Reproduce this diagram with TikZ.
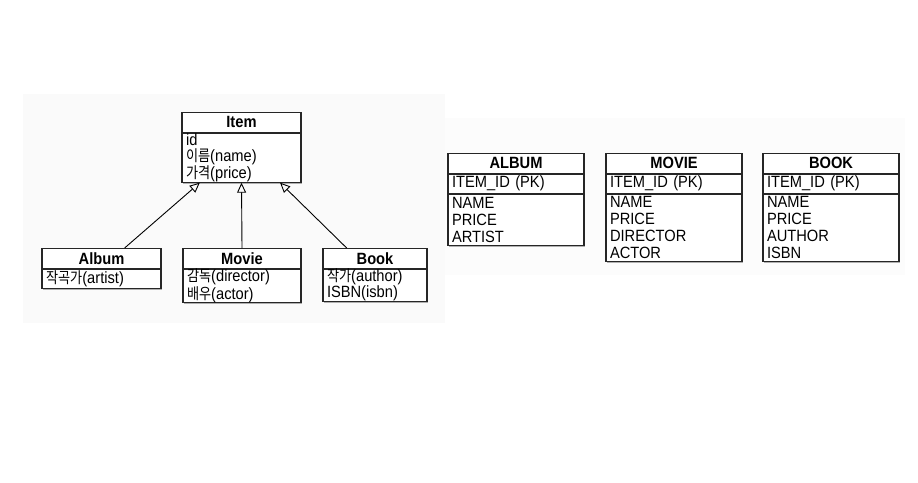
\documentclass[tikz,border=0pt]{standalone}
\usepackage{fontspec}
\setmainfont{Liberation Sans}[FakeStretch=0.9]
\newfontfamily\kr{Noto Sans CJK KR}[Scale=0.95,FakeStretch=0.85]
\usetikzlibrary{positioning,shadows,arrows.meta}
\tikzset{
  box/.style={draw=black!85,line width=1.1pt,fill=white,inner sep=0pt,
    drop shadow={shadow xshift=1pt,shadow yshift=-1.5pt,fill=black!60,opacity=.5}},
  head/.style={box,minimum width=#1,minimum height=19.5pt,font=\fontsize{16.3}{17}\selectfont\bfseries},
  attrs/.style={box,text width=#1,inner xsep=4pt,align=left,font=\fontsize{16.3}{17}\selectfont},
  uml/.style={font=\fontsize{16.3}{16}\selectfont},
  inherit/.style={line width=0.9pt,-{Triangle[open,length=10pt,width=9pt,line width=0.9pt]}}
}
\begin{document}
\begin{tikzpicture}[x=1pt,y=-1pt]
\useasboundingbox (0,0) rectangle (918,482);
\fill[black!2] (23,94) rectangle (445,323);
\fill[black!1] (445,118) rectangle (905,275);
% class diagram
\node (itemH)[head=119pt,anchor=north] at (241.5,112) {Item};
\node (itemB)[attrs=111pt,uml,minimum height=49pt,below=0pt of itemH] {id\\{\kr 이름}(name)\\{\kr 가격}(price)};
\node (albumH)[head=119pt,anchor=north] at (101.5,248) {Album};
\node (albumB)[attrs=111pt,uml,minimum height=19pt,below=0pt of albumH] {{\kr 작곡가}(artist)};
\node (movieH)[head=118pt,anchor=north] at (242,248) {Movie};
\node (movieB)[attrs=110pt,uml,minimum height=32pt,below=0pt of movieH] {{\kr 감독}(director)\\{\kr 배우}(actor)};
\node (bookH)[head=104pt,anchor=north] at (375,248) {Book};
\node (bookB)[attrs=96pt,uml,minimum height=32pt,below=0pt of bookH] {{\kr 작가}(author)\\ISBN(isbn)};
\draw[inherit] (albumH.24) -- (itemB.211);
\draw[inherit] (movieH.north) -- (itemB.south);
\draw[inherit] (bookH.160) -- (itemB.-33);
% tables
\node (albumT)[head=136pt,anchor=north] at (516,153) {ALBUM};
\node (albumK)[attrs=128pt,minimum height=19pt,below=0pt of albumT] {ITEM\_ID (PK)};
\node (albumC)[attrs=128pt,minimum height=51pt,below=0pt of albumK] {NAME\\PRICE\\ARTIST};
\node (movieT)[head=136pt,anchor=north] at (674,153) {MOVIE};
\node (movieK)[attrs=128pt,minimum height=19pt,below=0pt of movieT] {ITEM\_ID (PK)};
\node (movieC)[attrs=128pt,minimum height=67pt,below=0pt of movieK] {NAME\\PRICE\\DIRECTOR\\ACTOR};
\node (bookT)[head=136pt,anchor=north] at (831,153) {BOOK};
\node (bookK)[attrs=128pt,minimum height=19pt,below=0pt of bookT] {ITEM\_ID (PK)};
\node (bookC)[attrs=128pt,minimum height=67pt,below=0pt of bookK] {NAME\\PRICE\\AUTHOR\\ISBN};
\end{tikzpicture}
\end{document}
